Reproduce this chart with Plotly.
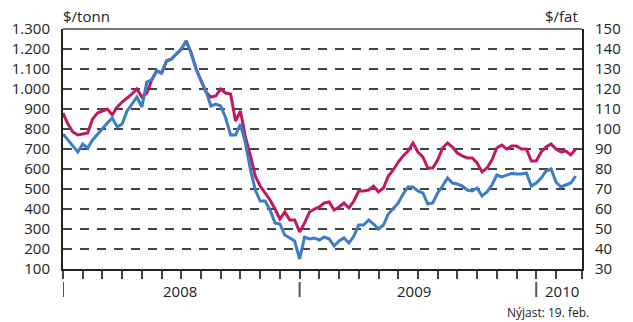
import plotly.graph_objects as go

# x positions in months since Jan 2008 (weekly-ish samples)
months = [i * 0.25 for i in range(105)]

# Blue series, $/tonn (left axis)
blue_tonn = [
    775, 745, 710, 685, 725, 705, 745, 775, 805, 830,
    855, 810, 825, 890, 925, 960, 910, 1035, 1045, 1090,
    1080, 1140, 1150, 1175, 1200, 1240, 1180, 1100, 1040, 990,
    915, 925, 915, 855, 770, 770, 825, 730, 600, 495,
    440, 440, 395, 330, 325, 270, 255, 240, 150, 260,
    250, 255, 245, 260, 250, 215, 240, 255, 230, 265,
    320, 320, 345, 325, 300, 320, 375, 400, 430, 475,
    510, 510, 490, 480, 425, 430, 480, 515, 555, 530,
    525, 515, 495, 490, 505, 465, 485, 520, 570, 560,
    570, 578, 575, 575, 580, 515, 530, 555, 590, 600,
    535, 510, 520, 530, 565,
]

# Red series, $/fat (right axis)
red_fat = [
    108, 102.5, 98.5, 97, 97.5, 98, 105, 108, 109, 110,
    107, 111, 113.5, 115.5, 117.5, 120, 116, 118, 124.5, 129,
    128, 134, 135, 137.5, 140, 144, 138, 130, 124, 118.5,
    116, 116.5, 120, 118, 117.5, 104, 109, 96, 87, 76.5,
    71.5, 68, 64.5, 60, 55, 58.5, 54.5, 54.5, 48.5, 53,
    58.5, 60, 61, 63, 63.5, 59.5, 61, 63, 60.5, 64,
    69, 69, 69.5, 71.5, 68.5, 70.5, 76.5, 79.5, 83.5, 86.5,
    89, 93, 88.5, 86, 80.5, 80.5, 84.5, 90.5, 93, 91,
    88, 86.5, 85.5, 85.5, 83, 78.5, 80.5, 84.5, 90.5, 92,
    90, 91.5, 91.5, 90, 90, 84, 84, 88.5, 91, 92.5,
    90, 88.5, 89, 87, 90,
]

left_ticks = [100, 200, 300, 400, 500, 600, 700, 800, 900, 1000, 1100, 1200, 1300]
left_labels = ["100", "200", "300", "400", "500", "600", "700", "800", "900",
               "1.000", "1.100", "1.200", "1.300"]
right_ticks = [30, 40, 50, 60, 70, 80, 90, 100, 110, 120, 130, 140, 150]
month_ticks = list(range(26)) + [26.32]
year_labels = ["2008", "2009", "2010"]
year_label_pos = [5.95, 17.8, 25.3]
year_starts = [0, 12, 24]

BLUE = "#3B7DC6"
RED = "#BF1A5F"
FONT = "Open Sans"
TXT = "#222222"

fig = go.Figure()
# red on the primary (right-side) axis so that blue (overlaying axis) is drawn on top
fig.add_trace(go.Scatter(x=months, y=red_fat, yaxis="y", mode="lines",
                         line=dict(color=RED, width=3), showlegend=False))
fig.add_trace(go.Scatter(x=months, y=blue_tonn, yaxis="y2", mode="lines",
                         line=dict(color=BLUE, width=3), showlegend=False))

fig.update_layout(
    width=633, height=322,
    margin=dict(l=57, r=43, t=29, b=53),
    paper_bgcolor="white", plot_bgcolor="white",
    font=dict(family=FONT, size=15, color=TXT),
    xaxis=dict(range=[0, 26.32], tickvals=month_ticks, showticklabels=False,
               ticks="outside", ticklen=8, tickwidth=2, tickcolor="#444",
               showgrid=False, zeroline=False, showline=True,
               linecolor="#222", linewidth=2),
    yaxis=dict(range=[30, 150], tickvals=right_ticks, side="right",
               showgrid=True, gridcolor="#444", gridwidth=1.5, griddash="9px,8px",
               zeroline=False, showline=True, linecolor="#222", linewidth=2,
               ticks="", ticklabelstandoff=8, tickfont=dict(size=15)),
    yaxis2=dict(range=[100, 1300], tickvals=left_ticks, ticktext=left_labels,
                overlaying="y", side="left",
                showgrid=False, zeroline=False, showline=True, linecolor="#222",
                linewidth=2, ticks="", ticklabelstandoff=8, tickfont=dict(size=15)),
)

# top border
fig.add_shape(type="line", xref="paper", yref="paper", x0=0, x1=1, y0=1, y1=1,
              line=dict(color="#777", width=2))

for xs in year_starts:
    fig.add_shape(type="line", xref="x", yref="paper", x0=xs, x1=xs,
                  y0=-0.054, y1=-0.117, line=dict(color="#555", width=2))

for lab, pos in zip(year_labels, year_label_pos):
    fig.add_annotation(x=pos, xref="x", y=-0.092, yref="paper", text=lab,
                       showarrow=False, font=dict(size=15, color=TXT),
                       xanchor="center", yanchor="middle")

fig.add_annotation(x=0, xref="paper", y=1.054, yref="paper", text="$/tonn",
                   showarrow=False, xanchor="left", yanchor="middle",
                   font=dict(size=15, color=TXT), xshift=-2)
fig.add_annotation(x=1, xref="paper", y=1.054, yref="paper", text="$/fat",
                   showarrow=False, xanchor="right", yanchor="middle",
                   font=dict(size=15, color=TXT), xshift=-2)
fig.add_annotation(x=1.0056, xref="paper", y=-0.183, yref="paper",
                   text="Nýjast: 19. feb.", showarrow=False, xanchor="right",
                   yanchor="middle", font=dict(size=12, color=TXT), xshift=6)

fig.write_html("out.html", config={"displayModeBar": False},
               post_script="document.body.style.margin='0';document.body.style.padding='0';")
